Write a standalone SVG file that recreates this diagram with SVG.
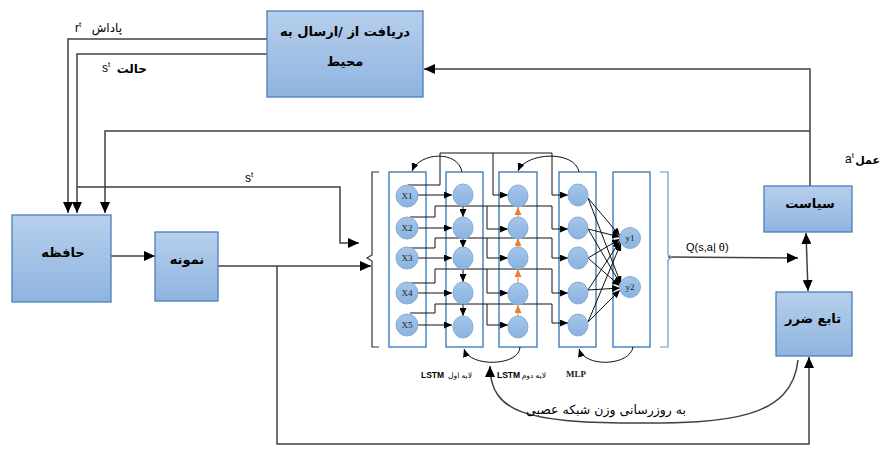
<svg xmlns="http://www.w3.org/2000/svg" width="880" height="457" viewBox="0 0 880 457">
<defs>
<linearGradient id="bg" x1="0" y1="0" x2="0" y2="1">
<stop offset="0" stop-color="#b7cfec"/>
<stop offset="1" stop-color="#8fb4df"/>
</linearGradient>
<linearGradient id="ng" x1="0" y1="0" x2="0" y2="1">
<stop offset="0" stop-color="#a5c6ea"/>
<stop offset="1" stop-color="#89b3df"/>
</linearGradient>
<marker id="ah" markerUnits="userSpaceOnUse" markerWidth="11" markerHeight="10" refX="11" refY="5" orient="auto-start-reverse">
<path d="M0,0 L11,5 L0,10 z" fill="#000"/>
</marker>
<marker id="as" markerUnits="userSpaceOnUse" markerWidth="8" markerHeight="7" refX="8" refY="3.5" orient="auto">
<path d="M0,0 L8,3.5 L0,7 z" fill="#000"/>
</marker>
<marker id="ao" markerUnits="userSpaceOnUse" markerWidth="8" markerHeight="7" refX="8" refY="3.5" orient="auto">
<path d="M0,0 L8,3.5 L0,7 z" fill="#ed7d31"/>
</marker>
</defs>
<style>
.box{fill:url(#bg);stroke:#4a7ebb;stroke-width:1.3}
.col{fill:#fff;stroke:#2e75b6;stroke-width:1.3}
.nd{fill:url(#ng);stroke:#86acd8;stroke-width:1}
.ln{fill:none;stroke:#404040;stroke-width:1.5}
.ma{marker-end:url(#ah)}
.nl{fill:none;stroke:#111;stroke-width:1}
.sa{marker-end:url(#as)}
.or{fill:none;stroke:#ed7d31;stroke-width:1;marker-end:url(#ao)}
.fa{font-family:"DejaVu Sans",sans-serif;fill:#000}
.bt{font-size:13px;font-weight:bold;text-anchor:middle}
.lt{font-family:"Liberation Sans",Arial,sans-serif;fill:#000}
.xt{font-family:"Liberation Serif",serif;font-size:9px;fill:#1a1a1a;text-anchor:middle}
</style>

<g id="connectors">
<polyline class="ln ma" points="267,39 68,39 68,213"/>
<polyline class="ln ma" points="267,54 77,54 77,213"/>
<polyline class="ln ma" points="77,187 340,187 340,243 359,243"/>
<polyline class="ln ma" points="810,186 810,69 424,69"/>
<polyline class="ln ma" points="810,131 105,131 105,213"/>
<line class="ln ma" x1="111" y1="256" x2="155" y2="256"/>
<line class="ln ma" x1="218" y1="266" x2="371" y2="266"/>
<polyline class="ln ma" points="277,266 277,444 809,444 809,357"/>
<line class="ln ma" x1="668" y1="257" x2="798" y2="258"/>
<line class="ln" x1="806" y1="233" x2="808" y2="291" marker-start="url(#ah)" marker-end="url(#ah)"/>
<path class="ln ma" d="M798,360 C792,418 730,424 630,423 C530,422 490,414 490,366"/>
</g>

<g id="brackets">
<path d="M379,172 H372 V255 L367,258 L372,261 V347 H379" fill="none" stroke="#333" stroke-width="1.2"/>
<path d="M660,172 H668 V255 L672,257 L668,260 V347 H660" fill="none" stroke="#5b9bd5" stroke-width="1.2"/>
</g>

<g id="env"><rect class="box" x="267" y="11" width="156" height="86"/>
<text class="fa bt" x="345" y="36" direction="rtl">دریافت از /ارسال به</text>
<text class="fa bt" x="345" y="66">محیط</text></g>

<g id="memory"><rect class="box" x="12" y="215" width="99" height="87"/>
<text class="fa bt" x="63" y="257" font-size="14">حافظه</text></g>

<g id="sample"><rect class="box" x="155" y="232" width="63" height="69"/>
<text class="fa bt" x="187" y="264">نمونه</text></g>

<g id="policy"><rect class="box" x="764" y="186" width="88" height="46"/>
<text class="fa bt" x="810" y="208">سیاست</text></g>

<g id="loss"><rect class="box" x="776" y="292" width="76" height="64"/>
<text class="fa bt" x="813" y="323">تابع ضرر</text></g>

<g id="network">
<rect class="col" x="389" y="172" width="37" height="175"/>
<rect class="col" x="446" y="172" width="37" height="175"/>
<rect class="col" x="499" y="172" width="38" height="175"/>
<rect class="col" x="559" y="172" width="37" height="175"/>
<rect class="col" x="613" y="172" width="37" height="175"/>

<g id="cross">
<polyline class="nl sa" points="408,185 440,185 440,153 552,153 552,195 568,195"/>
<polyline class="nl sa" points="493,153 493,195 508,195"/>
<polyline class="nl sa" points="410,217 435,217 435,206 552,206 552,229 568,229"/>
<polyline class="nl sa" points="487,206 487,229 508,229"/>
<polyline class="nl sa" points="410,248 435,248 435,238 552,238 552,258 568,258"/>
<polyline class="nl sa" points="487,238 487,258 508,258"/>
<polyline class="nl sa" points="410,283 435,283 435,269 552,269 552,293 568,293"/>
<polyline class="nl sa" points="487,269 487,293 508,293"/>
<polyline class="nl sa" points="410,313 435,313 435,304 552,304 552,323 568,323"/>
<polyline class="nl sa" points="487,304 487,325 508,325"/>
</g>

<g id="arcs">
<path class="nl sa" d="M462,172 C458,150 420,152 412,171"/>
<path class="nl sa" d="M579,172 C575,150 526,152 518,171"/>
<path class="nl sa" d="M520,347 C520,366 470,368 464,349"/>
<path class="nl sa" d="M633,347 C630,366 585,368 579,349"/>
</g>

<g id="c1"><line class="nl sa" x1="418" y1="195" x2="452" y2="195"/>
<line class="nl sa" x1="418" y1="228" x2="452" y2="228"/>
<line class="nl sa" x1="418" y1="258" x2="452" y2="258"/>
<line class="nl sa" x1="418" y1="293" x2="452" y2="293"/>
<line class="nl sa" x1="418" y1="325" x2="452" y2="325"/></g>

<g id="c2"><line class="nl sa" x1="463" y1="206" x2="463" y2="217"/>
<line class="nl sa" x1="463" y1="238" x2="463" y2="248"/>
<line class="nl sa" x1="463" y1="269" x2="463" y2="282"/>
<line class="nl sa" x1="463" y1="304" x2="463" y2="316"/></g>

<g id="c3"><line class="or" x1="518" y1="217" x2="518" y2="207"/>
<line class="or" x1="518" y1="247" x2="518" y2="238"/>
<line class="or" x1="518" y1="283" x2="518" y2="269"/>
<line class="or" x1="518" y1="316" x2="518" y2="305"/></g>

<g id="mlp">
<line class="nl sa" x1="588" y1="198" x2="620" y2="236"/>
<line class="nl sa" x1="588" y1="198" x2="621" y2="284"/>
<line class="nl sa" x1="588" y1="229" x2="620" y2="237"/>
<line class="nl sa" x1="588" y1="229" x2="621" y2="285"/>
<line class="nl sa" x1="588" y1="258" x2="620" y2="239"/>
<line class="nl sa" x1="588" y1="258" x2="620" y2="286"/>
<line class="nl sa" x1="588" y1="290" x2="620" y2="241"/>
<line class="nl sa" x1="588" y1="290" x2="620" y2="288"/>
<line class="nl sa" x1="588" y1="322" x2="621" y2="243"/>
<line class="nl sa" x1="588" y1="322" x2="620" y2="290"/>
</g>

<g id="nodes1">
<circle class="nd" cx="407" cy="196" r="11"/><text class="xt" x="407" y="199">X1</text>
<circle class="nd" cx="407" cy="228" r="11"/><text class="xt" x="407" y="231">X2</text>
<circle class="nd" cx="407" cy="258" r="11"/><text class="xt" x="407" y="261">X3</text>
<circle class="nd" cx="407" cy="293" r="11"/><text class="xt" x="407" y="296">X4</text>
<circle class="nd" cx="407" cy="325" r="11"/><text class="xt" x="407" y="328">X5</text>
</g>
<g id="nodes2">
<ellipse class="nd" cx="463" cy="195" rx="10" ry="11"/>
<ellipse class="nd" cx="463" cy="228" rx="10" ry="11"/>
<ellipse class="nd" cx="463" cy="258" rx="10" ry="11"/>
<ellipse class="nd" cx="463" cy="293" rx="10" ry="11"/>
<ellipse class="nd" cx="463" cy="327" rx="10" ry="11"/>
</g>
<g id="nodes3">
<ellipse class="nd" cx="518" cy="196" rx="10" ry="11"/>
<ellipse class="nd" cx="518" cy="228" rx="10" ry="11"/>
<ellipse class="nd" cx="518" cy="258" rx="10" ry="11"/>
<ellipse class="nd" cx="518" cy="294" rx="10" ry="11"/>
<ellipse class="nd" cx="518" cy="327" rx="10" ry="11"/>
</g>
<g id="nodes4">
<ellipse class="nd" cx="578" cy="195" rx="10" ry="11"/>
<ellipse class="nd" cx="578" cy="228" rx="10" ry="11"/>
<ellipse class="nd" cx="578" cy="258" rx="10" ry="11"/>
<ellipse class="nd" cx="578" cy="293" rx="10" ry="11"/>
<ellipse class="nd" cx="578" cy="325" rx="10" ry="11"/>
</g>
<g id="nodes5">
<circle class="nd" cx="630" cy="238" r="10.5"/><text class="xt" x="630" y="241">y1</text>
<circle class="nd" cx="630" cy="287" r="10.5"/><text class="xt" x="630" y="290">y2</text>
</g>
</g>

<g id="labels">
<text class="lt" x="75" y="32" font-size="12">r<tspan font-size="8" dy="-5">t</tspan></text>
<text class="fa" x="122" y="32" font-size="12" text-anchor="end">پاداش</text>
<text class="lt" x="102" y="72" font-size="12">s<tspan font-size="8" dy="-5">t</tspan></text>
<text class="fa" x="147" y="73" font-size="12" text-anchor="end" font-weight="bold">حالت</text>
<text class="lt" x="245" y="182" font-size="12">s<tspan font-size="8" dy="-5">t</tspan></text>
<text class="lt" x="845" y="163" font-size="12">a<tspan font-size="8" dy="-5">t</tspan></text>
<text class="fa" x="880" y="164" font-size="11" text-anchor="end" font-weight="bold">عمل</text>
<text class="lt" x="686" y="251" font-size="11">Q(s,a| θ)</text>
<text class="lt" x="421" y="378" font-size="8.5" font-weight="bold">LSTM</text>
<text class="fa" x="472" y="378" font-size="7.5" text-anchor="end">لایه اول</text>
<text class="lt" x="497" y="378" font-size="8.5" font-weight="bold">LSTM</text>
<text class="fa" x="546" y="378" font-size="7.5" text-anchor="end">لایه دوم</text>
<text class="xt" x="576" y="377" font-weight="bold" font-size="9">MLP</text>
<text class="fa" x="606" y="414" font-size="12.5" text-anchor="middle">به روزرسانی وزن شبکه عصبی</text>
</g>
</svg>
